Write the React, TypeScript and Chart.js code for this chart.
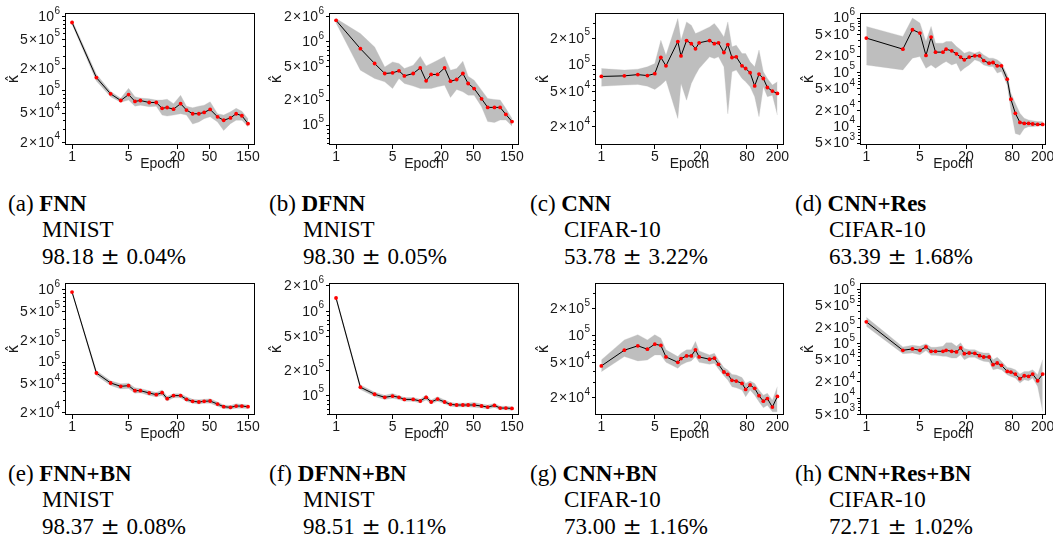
import React, { useEffect, useRef } from 'react';
import { Chart, registerables } from 'chart.js';

Chart.register(...registerables);

// ---------- epochs (x values) ----------
const epochsMnist = [1, 2, 3, 4, 5, 6, 7, 9, 11, 13, 15, 18, 22, 26, 31, 37, 43, 51, 63, 75, 91, 107, 126, 150];
const epochsCnn = [1, 2, 3, 4, 5, 6, 7, 10, 11, 13, 15, 17, 19, 26, 30, 34, 40, 45, 51, 58, 69, 77, 88, 101, 115, 131, 148, 172, 200];
const epochsRes = [1, 3, 4, 5, 6, 7, 8, 10, 11, 13, 15, 17, 19, 22, 26, 30, 34, 40, 45, 51, 58, 69, 77, 88, 101, 115, 131, 148, 172, 200];

// ---------- (a) FNN ----------
const fnnMean = [8.4e5, 1.51e5, 9.1e4, 7.4e4, 8.9e4, 7.2e4, 7.4e4, 6.95e4, 6.95e4, 5.8e4, 5.95e4, 5.65e4, 6.7e4, 5.5e4, 4.9e4, 4.9e4, 5.1e4, 5.6e4, 4.45e4, 4.0e4, 4.3e4, 4.9e4, 4.6e4, 3.6e4];
const fnnUpper = [9.0e5, 1.68e5, 9.8e4, 7.96e4, 1.08e5, 8.3e4, 8.0e4, 7.8e4, 7.5e4, 7.5e4, 7.7e4, 6.7e4, 8.7e4, 6.2e4, 5.9e4, 6.2e4, 6.4e4, 7.1e4, 4.9e4, 4.7e4, 5.2e4, 5.8e4, 5.3e4, 4.2e4];
const fnnLower = [7.96e5, 1.36e5, 8.3e4, 7.0e4, 7.5e4, 6.2e4, 6.4e4, 6.1e4, 6.2e4, 4.7e4, 4.55e4, 4.7e4, 4.9e4, 4.7e4, 3.55e4, 3.8e4, 4.2e4, 4.45e4, 3.8e4, 2.9e4, 3.6e4, 4.0e4, 4.0e4, 3.27e4];

// ---------- (b) DFNN ----------
const dfnnMean = [1.82e6, 8.3e5, 5.5e5, 4.17e5, 4.25e5, 4.49e5, 3.9e5, 4.17e5, 4.87e5, 3.4e5, 4.06e5, 4.06e5, 4.87e5, 3.37e5, 3.53e5, 4.17e5, 3.16e5, 2.75e5, 2.07e5, 1.63e5, 1.63e5, 1.63e5, 1.34e5, 1.1e5];
const dfnnUpper = [1.91e6, 1.26e6, 8.7e5, 5.0e5, 5.75e5, 5.5e5, 4.79e5, 5.25e5, 6.7e5, 5.15e5, 5.5e5, 6.0e5, 6.7e5, 4.57e5, 4.79e5, 5.86e5, 3.87e5, 3.47e5, 2.63e5, 2.09e5, 2.03e5, 2.0e5, 1.58e5, 1.2e5];
const dfnnLower = [1.69e6, 4.57e5, 3.63e5, 3.31e5, 2.75e5, 3.63e5, 3.16e5, 2.94e5, 2.75e5, 2.75e5, 2.75e5, 2.88e5, 3.02e5, 2.15e5, 2.68e5, 2.51e5, 2.29e5, 2.29e5, 1.66e5, 1.1e5, 1.07e5, 1.15e5, 1.15e5, 9.7e4];

// ---------- (c) CNN ----------
const cnnMean = [7.43e4, 7.55e4, 7.8e4, 7.6e4, 8.0e4, 1.22e5, 9.8e4, 1.85e5, 1.27e5, 1.9e5, 1.75e5, 1.53e5, 1.79e5, 1.9e5, 1.75e5, 1.79e5, 1.39e5, 1.71e5, 1.22e5, 1.24e5, 9.8e4, 9.15e4, 8.2e4, 5.8e4, 7.9e4, 7.05e4, 5.57e4, 5.07e4, 4.77e4];
const cnnUpper = [9.15e4, 8.77e4, 9.0e4, 9.55e4, 1.04e5, 1.91e5, 1.29e5, 3.37e5, 1.91e5, 3.09e5, 2.83e5, 2.28e5, 2.38e5, 2.71e5, 2.96e5, 2.59e5, 2.09e5, 3.09e5, 1.61e5, 1.68e5, 1.35e5, 1.35e5, 1.09e5, 9.55e4, 1.48e5, 8.4e4, 7.05e4, 5.93e4, 6.46e4];
const cnnLower = [5.77e4, 5.93e4, 6.03e4, 5.77e4, 5.3e4, 5.93e4, 6.75e4, 2.48e4, 6.2e4, 4.0e4, 6.2e4, 7.7e4, 9.15e4, 1.24e5, 1.19e5, 1.24e5, 9.55e4, 2.8e4, 8.4e4, 8.77e4, 7.05e4, 6.46e4, 5.67e4, 4.38e4, 2.6e4, 5.67e4, 4.38e4, 4.56e4, 2.71e4];

// ---------- (d) CNN+Res ----------
const resMean = [4.28e5, 2.68e5, 6.1e5, 5.29e5, 2.05e5, 4.46e5, 2.36e5, 2.36e5, 2.68e5, 2.49e5, 2.2e5, 1.91e5, 1.7e5, 1.91e5, 2.02e5, 2.02e5, 1.65e5, 1.48e5, 1.52e5, 1.32e5, 1.32e5, 7.5e4, 3.2e4, 1.76e4, 1.2e4, 1.15e4, 1.15e4, 1.12e4, 1.1e4, 1.1e4];
const resUpper = [7.0e5, 4.6e5, 1.0e6, 8.1e5, 3.7e5, 7.0e5, 3.45e5, 3.45e5, 3.7e5, 3.7e5, 3.0e5, 2.6e5, 2.26e5, 2.43e5, 2.26e5, 2.43e5, 2.1e5, 1.83e5, 1.83e5, 1.7e5, 1.48e5, 9.0e4, 4.12e4, 2.7e4, 1.76e4, 1.43e4, 1.33e4, 1.29e4, 1.24e4, 1.24e4];
const resLower = [1.37e5, 1.11e5, 1.83e5, 1.96e5, 1.19e5, 1.37e5, 1.19e5, 1.48e5, 1.58e5, 1.37e5, 1.48e5, 1.04e5, 1.19e5, 1.37e5, 1.7e5, 1.58e5, 1.37e5, 1.28e5, 1.28e5, 9.7e4, 1.04e5, 5.87e4, 2.03e4, 7.5e3, 7.0e3, 9.3e3, 1.0e4, 1.0e4, 1.03e4, 1.03e4];

// ---------- (e) FNN+BN ----------
const fnnBnMean = [9.3e5, 7.05e4, 5.13e4, 4.61e4, 4.71e4, 4.02e4, 4.02e4, 3.73e4, 3.53e4, 3.77e4, 3.11e4, 3.43e4, 3.43e4, 3.05e4, 2.86e4, 2.8e4, 2.86e4, 2.89e4, 2.62e4, 2.41e4, 2.36e4, 2.46e4, 2.46e4, 2.41e4];
const fnnBnUpper = [9.6e5, 7.6e4, 5.5e4, 5.0e4, 5.1e4, 4.4e4, 4.3e4, 4.0e4, 3.8e4, 4.1e4, 3.35e4, 3.65e4, 3.65e4, 3.3e4, 3.05e4, 3.0e4, 3.05e4, 3.1e4, 2.8e4, 2.55e4, 2.5e4, 2.65e4, 2.6e4, 2.55e4];
const fnnBnLower = [9.0e5, 6.5e4, 4.75e4, 4.25e4, 4.3e4, 3.7e4, 3.75e4, 3.45e4, 3.3e4, 3.45e4, 2.9e4, 3.2e4, 3.2e4, 2.85e4, 2.7e4, 2.62e4, 2.7e4, 2.7e4, 2.45e4, 2.28e4, 2.22e4, 2.3e4, 2.3e4, 2.28e4];

// ---------- (f) DFNN+BN ----------
const dfnnBnMean = [1.44e6, 1.26e5, 1.04e5, 9.56e4, 9.9e4, 9.56e4, 9.04e4, 9.04e4, 8.65e4, 9.56e4, 8.41e4, 9.12e4, 8.41e4, 7.89e4, 7.75e4, 7.75e4, 7.75e4, 7.75e4, 7.54e4, 7.33e4, 7.67e4, 7.13e4, 7.13e4, 7.06e4];
const dfnnBnUpper = [1.5e6, 1.34e5, 1.1e5, 1.01e5, 1.06e5, 1.0e5, 9.5e4, 9.5e4, 9.1e4, 1.02e5, 8.9e4, 9.7e4, 8.9e4, 8.3e4, 8.15e4, 8.15e4, 8.2e4, 8.3e4, 7.95e4, 7.75e4, 8.1e4, 7.5e4, 7.5e4, 7.4e4];
const dfnnBnLower = [1.38e6, 1.18e5, 9.8e4, 9.0e4, 9.3e4, 9.0e4, 8.6e4, 8.6e4, 8.2e4, 8.9e4, 8.0e4, 8.6e4, 8.0e4, 7.5e4, 7.35e4, 7.35e4, 7.35e4, 7.3e4, 7.15e4, 6.95e4, 7.25e4, 6.8e4, 6.8e4, 6.7e4];

// ---------- (g) CNN+BN ----------
const cnnBnMean = [4.55e4, 6.84e4, 7.66e4, 7.02e4, 8.0e4, 7.73e4, 5.75e4, 5.0e4, 5.51e4, 5.9e4, 5.9e4, 6.9e4, 5.75e4, 5.41e4, 5.56e4, 4.75e4, 3.89e4, 3.66e4, 3.14e4, 3.08e4, 2.9e4, 2.48e4, 2.78e4, 2.55e4, 2.11e4, 1.83e4, 1.96e4, 1.57e4, 2.07e4];
const cnnBnUpper = [5.32e4, 8.93e4, 1.02e5, 8.93e4, 1.02e5, 9.33e4, 6.9e4, 5.8e4, 6.32e4, 6.9e4, 6.9e4, 8.57e4, 6.71e4, 6.05e4, 6.32e4, 5.32e4, 4.36e4, 4.1e4, 3.66e4, 3.6e4, 3.37e4, 2.9e4, 3.08e4, 2.9e4, 2.44e4, 2.14e4, 2.24e4, 1.88e4, 2.66e4];
const cnnBnLower = [3.93e4, 5.8e4, 5.19e4, 5.32e4, 6.05e4, 6.05e4, 5.0e4, 4.28e4, 4.67e4, 5.0e4, 5.19e4, 5.8e4, 5.0e4, 4.75e4, 4.88e4, 4.21e4, 3.54e4, 3.16e4, 2.66e4, 2.59e4, 2.44e4, 2.05e4, 2.44e4, 2.14e4, 1.8e4, 1.54e4, 1.65e4, 1.39e4, 1.39e4];

// ---------- (h) CNN+Res+BN ----------
const resBnMean = [2.53e5, 7.59e4, 8.03e4, 7.59e4, 8.75e4, 7.27e4, 7.27e4, 7.27e4, 7.59e4, 7.27e4, 7.07e4, 8.38e4, 6.58e4, 6.77e4, 6.68e4, 6.05e4, 5.71e4, 5.71e4, 4.12e4, 4.43e4, 4.01e4, 3.1e4, 3.02e4, 2.77e4, 2.28e4, 2.58e4, 2.51e4, 2.77e4, 2.09e4, 2.77e4];
const resBnUpper = [3.08e5, 8.75e4, 9.38e4, 9.0e4, 1.0e5, 8.6e4, 8.6e4, 9.0e4, 1.04e5, 1.04e5, 9.0e4, 1.04e5, 8.15e4, 7.8e4, 7.8e4, 7.07e4, 6.77e4, 6.77e4, 5.1e4, 5.63e4, 4.75e4, 3.68e4, 3.58e4, 3.33e4, 2.77e4, 3.1e4, 3.1e4, 3.33e4, 2.7e4, 5.1e4];
const resBnLower = [2.1e5, 6.58e4, 6.77e4, 6.3e4, 7.48e4, 6.14e4, 6.14e4, 5.87e4, 5.87e4, 5.47e4, 5.47e4, 6.3e4, 5.1e4, 5.63e4, 5.63e4, 5.1e4, 4.75e4, 4.63e4, 3.33e4, 3.48e4, 3.33e4, 2.7e4, 2.51e4, 2.34e4, 1.89e4, 2.18e4, 2.09e4, 2.34e4, 1.64e4, 5.7e3];

// ---------- tick labels ----------
const xTicks150 = [1, 5, 20, 50, 150];
const xTicks200 = [1, 5, 20, 80, 200];
const yTicksFnn = [2e4, 5e4, 1e5, 2e5, 5e5, 1e6];
const yTicksDfnn = [1e5, 2e5, 5e5, 1e6, 2e6];
const yTicksCnn = [2e4, 5e4, 1e5, 2e5];
const yTicksRes = [5e3, 1e4, 2e4, 5e4, 1e5, 2e5, 5e5, 1e6];

// ---------- captions ----------
const captionLetters = ['a', 'b', 'c', 'd', 'e', 'f', 'g', 'h'];
const captionModels = ['FNN', 'DFNN', 'CNN', 'CNN+Res', 'FNN+BN', 'DFNN+BN', 'CNN+BN', 'CNN+Res+BN'];
const captionDatasets = ['MNIST', 'MNIST', 'CIFAR-10', 'CIFAR-10', 'MNIST', 'MNIST', 'CIFAR-10', 'CIFAR-10'];
const captionAccMean = ['98.18', '98.30', '53.78', '63.39', '98.37', '98.51', '73.00', '72.71'];
const captionAccStd = ['0.04', '0.05', '3.22', '1.68', '0.08', '0.11', '1.16', '1.02'];

// ---------- layout ----------
const COLS = [
  { left: 0, width: 262, plotL: 65, plotR: 255, capX: 8 },
  { left: 263, width: 264, plotL: 329, plotR: 519, capX: 269 },
  { left: 530, width: 262, plotL: 595, plotR: 784, capX: 530 },
  { left: 795, width: 258, plotL: 860, plotR: 1046, capX: 795 },
];
const ROWS = [
  { top: 0, capTop: 191 },
  { top: 270, capTop: 461 },
];
const PANEL_H = 175;
const PLOT_TOP_PAD = 13;
const X_AXIS_H = 30;

type Spec = {
  col: number; row: number;
  epochs: number[]; mean: number[]; upper: number[]; lower: number[];
  xMin: number; xMax: number; xTicks: number[];
  yMin: number; yMax: number; yTicks: number[];
};

const SPECS: Spec[] = [
  { col: 0, row: 0, epochs: epochsMnist, mean: fnnMean, upper: fnnUpper, lower: fnnLower, xMin: 0.818, xMax: 183, xTicks: xTicks150, yMin: 1.85e4, yMax: 1.13e6, yTicks: yTicksFnn },
  { col: 1, row: 0, epochs: epochsMnist, mean: dfnnMean, upper: dfnnUpper, lower: dfnnLower, xMin: 0.818, xMax: 183, xTicks: xTicks150, yMin: 5.75e4, yMax: 2.23e6, yTicks: yTicksDfnn },
  { col: 2, row: 0, epochs: epochsCnn, mean: cnnMean, upper: cnnUpper, lower: cnnLower, xMin: 0.827, xMax: 244, xTicks: xTicks200, yMin: 1.24e4, yMax: 3.9e5, yTicks: yTicksCnn },
  { col: 3, row: 0, epochs: epochsRes, mean: resMean, upper: resUpper, lower: resLower, xMin: 0.827, xMax: 221, xTicks: xTicks200, yMin: 4.6e3, yMax: 1.24e6, yTicks: yTicksRes },
  { col: 0, row: 1, epochs: epochsMnist, mean: fnnBnMean, upper: fnnBnUpper, lower: fnnBnLower, xMin: 0.818, xMax: 183, xTicks: xTicks150, yMin: 1.85e4, yMax: 1.24e6, yTicks: yTicksFnn },
  { col: 1, row: 1, epochs: epochsMnist, mean: dfnnBnMean, upper: dfnnBnUpper, lower: dfnnBnLower, xMin: 0.818, xMax: 183, xTicks: xTicks150, yMin: 5.9e4, yMax: 2.17e6, yTicks: yTicksDfnn },
  { col: 2, row: 1, epochs: epochsCnn, mean: cnnBnMean, upper: cnnBnUpper, lower: cnnBnLower, xMin: 0.827, xMax: 244, xTicks: xTicks200, yMin: 1.28e4, yMax: 3.89e5, yTicks: yTicksCnn },
  { col: 3, row: 1, epochs: epochsRes, mean: resBnMean, upper: resBnUpper, lower: resBnLower, xMin: 0.827, xMax: 221, xTicks: xTicks200, yMin: 4.9e3, yMax: 1.31e6, yTicks: yTicksRes },
];

function sciParts(v: number): { base: string; exp: string } {
  const e = Math.floor(Math.log10(v) + 1e-9);
  const m = Math.round(v / Math.pow(10, e));
  return { base: m === 1 ? '10' : `${m}\u200A×\u200A10`, exp: String(e) };
}

function minorTicks(min: number, max: number, majors: number[]): number[] {
  const out: number[] = [];
  for (let e = Math.floor(Math.log10(min)); e <= Math.ceil(Math.log10(max)); e++) {
    for (let m = 1; m <= 9; m++) {
      const v = m * Math.pow(10, e);
      if (v >= min && v <= max && !majors.some((t) => Math.abs(t - v) / v < 1e-6)) out.push(v);
    }
  }
  return out;
}

const SANS = '"Liberation Sans", Arial, Helvetica, sans-serif';
const TEXT_COLOR = '#1a1a1a';
const Y_BASE_FONT = `14px ${SANS}`;
const Y_SUP_FONT = `10px ${SANS}`;

function Panel({ spec }: { spec: Spec }) {
  const ref = useRef<HTMLCanvasElement | null>(null);
  const col = COLS[spec.col];
  const row = ROWS[spec.row];

  useEffect(() => {
    const canvas = ref.current;
    if (!canvas) return;
    const pts = (arr: number[]) => spec.epochs.map((x, i) => ({ x, y: arr[i] }));
    const yAxisW = col.plotL - col.left;
    const padR = col.left + col.width - col.plotR;
    const minors = minorTicks(spec.yMin, spec.yMax, spec.yTicks);

    // frame box, minor y ticks and y tick labels with true superscripts
    const framePlugin = {
      id: 'frameBox',
      afterDraw(chart: any) {
        const { ctx, chartArea: a, scales } = chart;
        ctx.save();
        ctx.strokeStyle = '#000';
        ctx.lineWidth = 1;
        const l = Math.round(a.left) + 0.5;
        const t = Math.round(a.top) + 0.5;
        const r = Math.round(a.right) - 0.5;
        const b = Math.round(a.bottom) - 0.5;
        ctx.strokeRect(l, t, r - l, b - t);
        ctx.beginPath();
        for (const v of minors) {
          const p = Math.round(scales.y.getPixelForValue(v)) + 0.5;
          if (p < a.top || p > a.bottom) continue;
          ctx.moveTo(l, p);
          ctx.lineTo(l - 2.5, p);
        }
        ctx.stroke();

        ctx.fillStyle = TEXT_COLOR;
        const right = a.left - 5;
        for (const tk of scales.y.ticks) {
          const v = tk.value;
          const y = scales.y.getPixelForValue(v);
          const { base, exp } = sciParts(v);
          ctx.font = Y_SUP_FONT;
          const supW = ctx.measureText(exp).width;
          ctx.textAlign = 'left';
          ctx.textBaseline = 'alphabetic';
          ctx.fillText(exp, right - supW, y - 3.2);
          ctx.font = Y_BASE_FONT;
          ctx.textAlign = 'right';
          ctx.textBaseline = 'middle';
          ctx.fillText(base, right - supW - 0.5, y + 0.5);
        }
        ctx.restore();
      },
    };

    const chart = new Chart(canvas, {
      type: 'line',
      data: {
        datasets: [
          {
            data: pts(spec.mean),
            borderColor: '#000',
            borderWidth: 1,
            pointRadius: 1.9,
            pointBackgroundColor: '#ff0000',
            pointBorderColor: '#ff0000',
            pointBorderWidth: 0,
            tension: 0,
            fill: false,
          },
          {
            data: pts(spec.upper),
            borderColor: 'rgba(190,190,190,0.6)',
            borderWidth: 0.5,
            pointRadius: 0,
            tension: 0,
            fill: '+1',
            backgroundColor: '#bebebe',
          },
          {
            data: pts(spec.lower),
            borderColor: 'rgba(190,190,190,0.6)',
            borderWidth: 0.5,
            pointRadius: 0,
            tension: 0,
            fill: false,
          },
        ],
      },
      options: {
        animation: false,
        responsive: false,
        events: [],
        layout: { padding: { left: 0, right: padR, top: PLOT_TOP_PAD, bottom: 0 } },
        plugins: { legend: { display: false }, tooltip: { enabled: false } },
        scales: {
          x: {
            type: 'logarithmic',
            min: spec.xMin,
            max: spec.xMax,
            afterBuildTicks: (s: any) => {
              s.ticks = spec.xTicks.map((v) => ({ value: v }));
            },
            afterFit: (s: any) => {
              s.height = X_AXIS_H;
              s.paddingLeft = 0;
              s.paddingRight = 0;
            },
            ticks: {
              autoSkip: false,
              maxRotation: 0,
              minRotation: 0,
              padding: 0,
              color: TEXT_COLOR,
              font: { family: SANS, size: 14 },
              callback: (v: any) => String(v),
            },
            grid: { display: true, drawOnChartArea: false, drawTicks: true, tickLength: 4, tickColor: '#000', color: '#000' },
            border: { display: false },
            title: {
              display: true,
              text: 'Epoch',
              color: TEXT_COLOR,
              font: { family: SANS, size: 14 },
              padding: { top: 0, bottom: 2 },
            },
          },
          y: {
            type: 'logarithmic',
            min: spec.yMin,
            max: spec.yMax,
            afterBuildTicks: (s: any) => {
              s.ticks = spec.yTicks.map((v) => ({ value: v }));
            },
            afterFit: (s: any) => {
              s.width = yAxisW;
              s.paddingTop = 0;
              s.paddingBottom = 0;
            },
            ticks: { display: false, autoSkip: false },
            grid: { display: true, drawOnChartArea: false, drawTicks: true, tickLength: 3, tickColor: '#000', color: '#000' },
            border: { display: false },
            title: {
              display: true,
              text: 'κ\u0302',
              color: TEXT_COLOR,
              font: { family: '"DejaVu Sans", ' + SANS, size: 15 },
              padding: { top: 5, bottom: 0 },
            },
          },
        },
      },
      plugins: [framePlugin],
    } as any);

    return () => chart.destroy();
  }, []);

  return (
    <canvas
      ref={ref}
      width={col.width}
      height={PANEL_H}
      style={{ position: 'absolute', left: col.left, top: row.top, width: col.width, height: PANEL_H }}
    />
  );
}

function Caption({ index, spec }: { index: number; spec: Spec }) {
  const col = COLS[spec.col];
  const row = ROWS[spec.row];
  return (
    <div
      style={{
        position: 'absolute',
        left: col.capX,
        top: row.capTop,
        fontFamily: '"Liberation Serif", "Times New Roman", Times, serif',
        fontSize: 23,
        lineHeight: '26px',
        color: '#000',
        whiteSpace: 'nowrap',
      }}
    >
      <div>
        ({captionLetters[index]}) <b>{captionModels[index]}</b>
      </div>
      <div style={{ paddingLeft: 34 }}>{captionDatasets[index]}</div>
      <div style={{ paddingLeft: 34, wordSpacing: '1px' }}>
        {captionAccMean[index]} <span style={{ fontFamily: '"DejaVu Serif", serif', fontSize: 23 }}>±</span> {captionAccStd[index]}%
      </div>
    </div>
  );
}

export default function App() {
  return (
    <div
      style={{
        position: 'absolute',
        left: 0,
        top: 0,
        width: 1053,
        height: 535,
        overflow: 'hidden',
        background: '#fff',
      }}
    >
      {SPECS.map((s, i) => (
        <Panel key={`p${i}`} spec={s} />
      ))}
      {SPECS.map((s, i) => (
        <Caption key={`c${i}`} index={i} spec={s} />
      ))}
    </div>
  );
}
